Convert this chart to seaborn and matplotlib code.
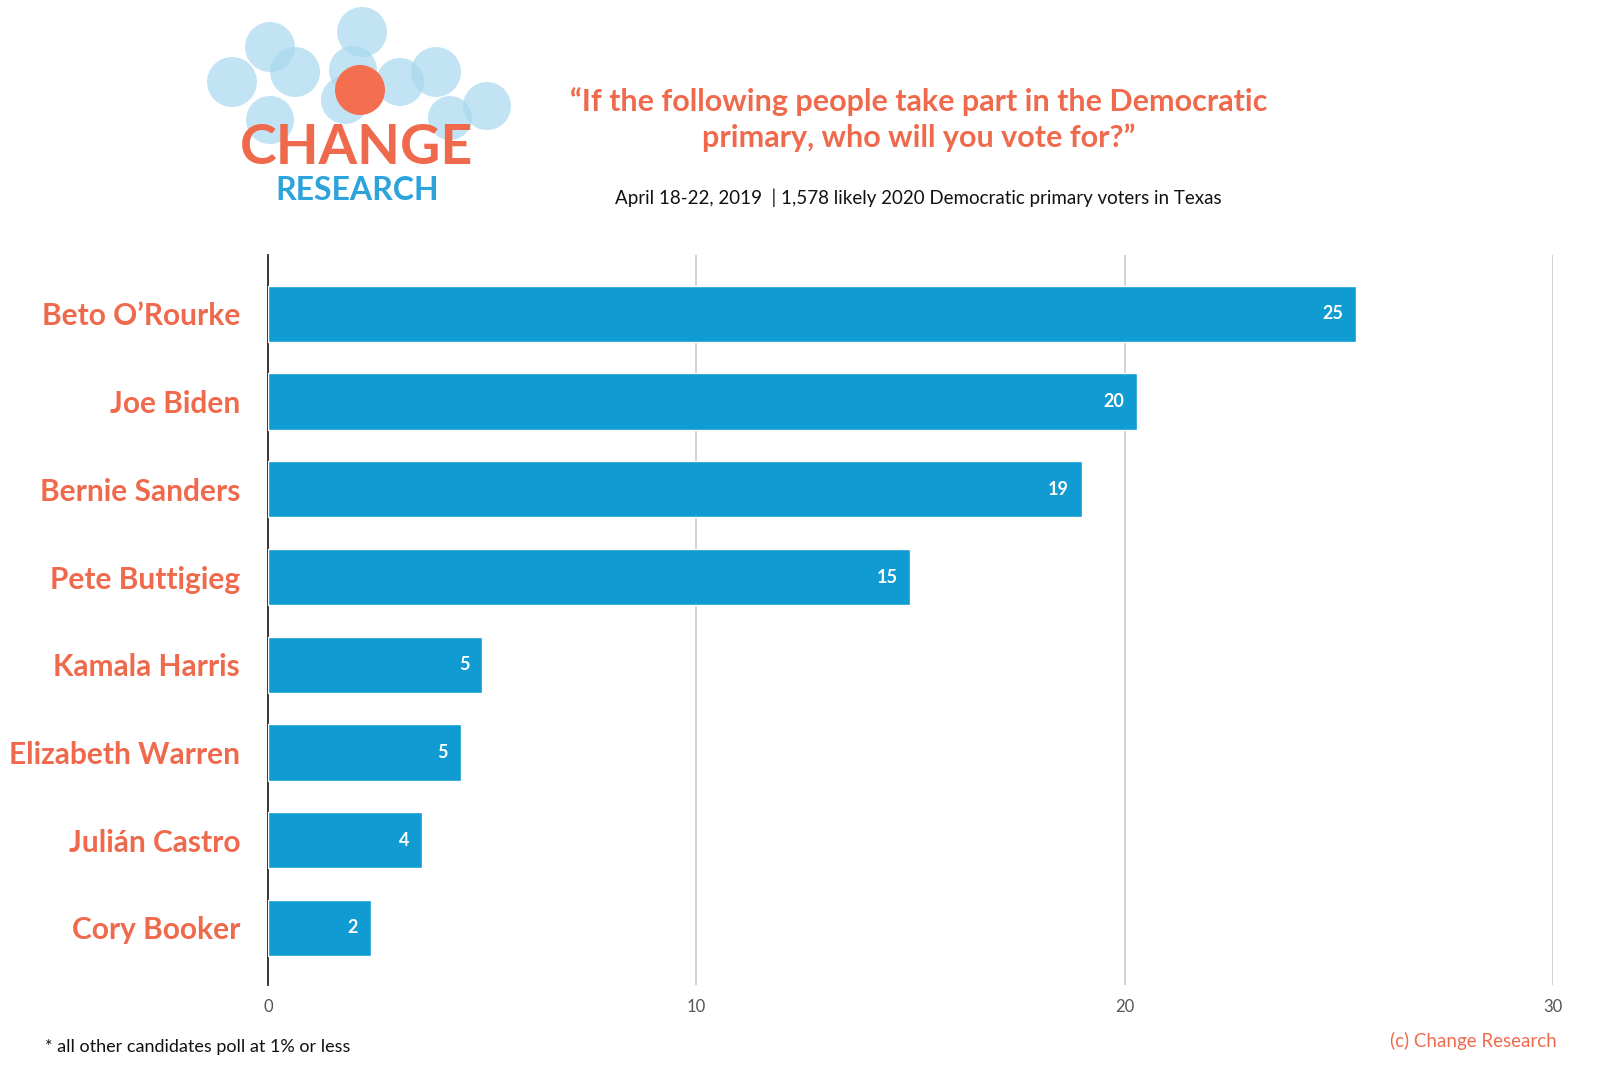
import matplotlib
matplotlib.use("Agg")
import matplotlib.pyplot as plt
import seaborn as sns
import pandas as pd
from matplotlib.patches import Circle

candidates = ["Beto O’Rourke", "Joe Biden", "Bernie Sanders", "Pete Buttigieg",
              "Kamala Harris", "Elizabeth Warren", "Julián Castro", "Cory Booker"]
values = [25.4, 20.3, 19.0, 15.0, 5.0, 4.5, 3.6, 2.4]
labels = ["25", "20", "19", "15", "5", "5", "4", "2"]
xticks = [0, 10, 20, 30]

sns.set_theme(style="white")
plt.rcParams['font.family'] = ['Lato', 'DejaVu Sans']
ORANGE = "#ef6a4c"
BLUE = "#109bd2"

fig = plt.figure(figsize=(16, 10.83), dpi=100)
ax = fig.add_axes([0.1675, 0.0905, 0.8031, 0.674])
df = pd.DataFrame({"c": candidates, "v": values})
sns.barplot(data=df, x="v", y="c", color=BLUE, saturation=1, width=0.64, ax=ax, zorder=3)
ax.set_xlim(0, 30)
ax.set_ylim(7.65, -0.67)
ax.set_xticks(xticks)
ax.set_xticklabels([str(t) for t in xticks], color="#555555", fontsize=12)
ax.xaxis.grid(True, color="#cccccc", lw=1.2, zorder=0)
ax.set_xlabel(""); ax.set_ylabel("")
for s in ["top", "right", "bottom"]:
    ax.spines[s].set_visible(False)
ax.spines["left"].set_color("#222222")
ax.tick_params(axis="y", length=0, pad=20)
ax.tick_params(axis="x", length=0, pad=10)
for t in ax.get_yticklabels():
    t.set_color(ORANGE); t.set_fontsize(21.5); t.set_fontweight("bold")
for i, (v, l) in enumerate(zip(values, labels)):
    ax.text(v - 0.3, i, l, ha="right", va="center", color="white", fontsize=13, fontweight="bold", zorder=4)

fig.text(0.574, 0.89, "“If the following people take part in the Democratic\nprimary, who will you vote for?”",
         ha="center", va="center", color=ORANGE, fontsize=22, fontweight="bold", linespacing=1.3)
fig.text(0.574, 0.817, "April 18-22, 2019  | 1,578 likely 2020 Democratic primary voters in Texas",
         ha="center", va="center", color="#111111", fontsize=13.5)
fig.text(0.028, 0.033, "* all other candidates poll at 1% or less", ha="left", va="center", fontsize=13, color="#111111")
fig.text(0.973, 0.039, "(c) Change Research", ha="right", va="center", fontsize=13.5, color=ORANGE)

# logo
lax = fig.add_axes([0, 0, 1, 1], zorder=-1)
lax.set_xlim(0, 1600); lax.set_ylim(1083, 0); lax.axis("off")
for (x, y, r) in [(232, 82, 25), (270, 47, 25), (295, 72, 25), (362, 32, 25), (353, 70, 24),
                  (400, 82, 24), (436, 72, 25), (487, 106, 24), (270, 120, 24), (345, 100, 24), (450, 118, 22)]:
    lax.add_patch(Circle((x, y), r, color="#a8d8ee", alpha=0.7, lw=0))
lax.add_patch(Circle((360, 90, ), 25, color="#f36f4f", lw=0))
fig.text(0.223, 0.863, "CHANGE", ha="center", va="center", color=ORANGE, fontsize=40, fontweight="bold")
fig.text(0.223, 0.824, "RESEARCH", ha="center", va="center", color="#2ca3db", fontsize=23, fontweight="bold")

fig.savefig("out.png", dpi=100)
